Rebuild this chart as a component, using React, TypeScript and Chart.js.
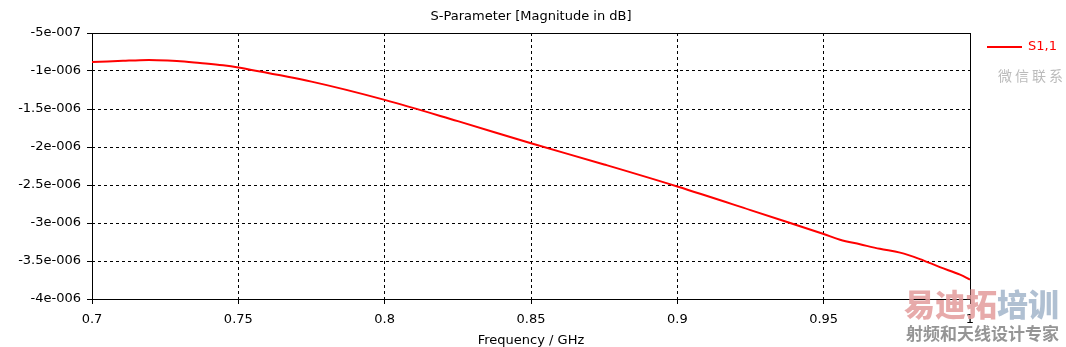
import React, { useEffect, useRef } from "react";
import { Chart, registerables } from "chart.js";

Chart.register(...registerables);

// ---- data ----
const freqGHz = [0.7, 0.7106, 0.7164, 0.7222, 0.729, 0.7369, 0.7448, 0.75, 0.775, 0.8, 0.825, 0.85, 0.875, 0.9, 0.925, 0.95, 0.9556, 0.9624, 0.9692, 0.9761, 0.9829, 0.9897, 0.9966, 1.0];
const s11dB = [-8.82e-7, -8.66e-7, -8.57e-7, -8.57e-7, -8.68e-7, -8.95e-7, -9.25e-7, -9.55e-7, -1.14e-6, -1.38e-6, -1.66e-6, -1.95e-6, -2.23e-6, -2.52e-6, -2.83e-6, -3.145e-6, -3.22e-6, -3.28e-6, -3.34e-6, -3.39e-6, -3.475e-6, -3.58e-6, -3.68e-6, -3.745e-6];

const xTickValues = [0.7, 0.75, 0.8, 0.85, 0.9, 0.95, 1];
const xTickLabels = ["0.7", "0.75", "0.8", "0.85", "0.9", "0.95", "1"];
const yTickValues = [-4e-6, -3.5e-6, -3e-6, -2.5e-6, -2e-6, -1.5e-6, -1e-6, -5e-7];
const yTickLabels = ["-4e-006", "-3.5e-006", "-3e-006", "-2.5e-006", "-2e-006", "-1.5e-006", "-1e-006", "-5e-007"];

const seriesName = "S1,1";
const chartTitle = "S-Parameter [Magnitude in dB]";
const xAxisTitle = "Frequency / GHz";

const FONT = "'DejaVu Sans', sans-serif";
const RED = "#ff0000";

const framePlugin = {
  id: "frame",
  beforeDatasetsDraw(chart: any) {
    const { ctx, chartArea } = chart;
    ctx.save();
    ctx.strokeStyle = "#000";
    ctx.lineWidth = 1;
    ctx.setLineDash([]);
    ctx.strokeRect(chartArea.left + 0.5, chartArea.top + 0.5, chartArea.right - chartArea.left, chartArea.bottom - chartArea.top);
    ctx.restore();
  },
};

const legendPlugin = {
  id: "sideLegend",
  afterDraw(chart: any) {
    const { ctx, chartArea } = chart;
    const y = chartArea.top + 14;
    const x0 = chartArea.right + 17;
    ctx.save();
    ctx.strokeStyle = RED;
    ctx.lineWidth = 2;
    ctx.beginPath();
    ctx.moveTo(x0, y);
    ctx.lineTo(x0 + 35, y);
    ctx.stroke();
    ctx.fillStyle = RED;
    ctx.font = `13px ${FONT}`;
    ctx.textBaseline = "middle";
    ctx.textAlign = "left";
    ctx.fillText(chart.data.datasets[0].label, x0 + 41, y);
    ctx.restore();
  },
};

export default function App() {
  const ref = useRef<HTMLCanvasElement | null>(null);

  useEffect(() => {
    document.body.style.margin = "0";
    const canvas = ref.current;
    if (!canvas) return;
    const chart = new Chart(canvas, {
      type: "line",
      data: {
        datasets: [
          {
            label: seriesName,
            data: freqGHz.map((f, i) => ({ x: f, y: s11dB[i] })),
            borderColor: RED,
            backgroundColor: RED,
            borderWidth: 2,
            pointRadius: 0,
            tension: 0.35,
            fill: false,
          },
        ],
      },
      options: {
        responsive: false,
        animation: false,
        devicePixelRatio: 1,
        layout: { padding: { left: 0, right: 96, top: 0, bottom: 0 } },
        plugins: {
          legend: { display: false },
          tooltip: { enabled: false },
          title: {
            display: true,
            text: chartTitle,
            fullSize: false,
            color: "#000",
            font: { family: FONT, size: 13, weight: "normal" },
            padding: { top: 8.7, bottom: 8.7 },
          },
        },
        scales: {
          x: {
            type: "linear",
            min: 0.7,
            max: 1,
            afterBuildTicks: (scale: any) => {
              scale.ticks = xTickValues.map((v) => ({ value: v }));
            },
            afterFit: (scale: any) => {
              scale.height = 48;
            },
            ticks: {
              autoSkip: false,
              maxRotation: 0,
              color: "#000",
              font: { family: FONT, size: 13 },
              padding: 8,
              callback: (_v: any, i: number) => xTickLabels[i],
            },
            grid: {
              color: "#000",
              lineWidth: 1,
              tickLength: 5,
              tickColor: "#000",
              tickBorderDash: [],
            },
            border: { display: false, dash: [3, 3] },
            title: {
              display: true,
              text: xAxisTitle,
              color: "#000",
              font: { family: FONT, size: 13 },
              padding: { top: 0, bottom: -1 },
            },
          },
          y: {
            type: "linear",
            min: -4e-6,
            max: -5e-7,
            afterBuildTicks: (scale: any) => {
              scale.ticks = yTickValues.map((v) => ({ value: v }));
            },
            afterFit: (scale: any) => {
              scale.width = 92;
            },
            ticks: {
              autoSkip: false,
              color: "#000",
              font: { family: FONT, size: 13 },
              padding: 6,
              callback: (_v: any, i: number) => yTickLabels[i],
            },
            grid: {
              color: "#000",
              lineWidth: 1,
              tickLength: 5,
              tickColor: "#000",
              tickBorderDash: [],
            },
            border: { display: false, dash: [3, 3] },
          },
        },
      },
      plugins: [framePlugin, legendPlugin],
    } as any);
    return () => chart.destroy();
  }, []);

  const cjk = "'Noto Sans CJK SC', sans-serif";
  return (
    <div style={{ position: "absolute", left: 0, top: 0, width: 1066, height: 347, background: "#fff", overflow: "hidden" }}>
      <canvas ref={ref} width={1066} height={347} style={{ display: "block", width: 1066, height: 347 }} />
      <div style={{ position: "absolute", left: 998, top: 66, fontFamily: cjk, fontSize: 14, letterSpacing: 3, color: "#bbbbbb", lineHeight: "18px", whiteSpace: "nowrap" }}>
        微信联系
      </div>
      <div style={{ position: "absolute", left: 904, top: 284, fontFamily: cjk, fontSize: 31, fontWeight: 900, lineHeight: "38px", whiteSpace: "nowrap", opacity: 0.85 }}>
        <span style={{ color: "#e39c9c" }}>易迪拓</span>
        <span style={{ color: "#a3b5cb" }}>培训</span>
      </div>
      <div style={{ position: "absolute", left: 906, top: 322, fontFamily: cjk, fontSize: 17, fontWeight: 700, lineHeight: "22px", color: "#8a8a8a", whiteSpace: "nowrap", opacity: 0.9 }}>
        射频和天线设计专家
      </div>
    </div>
  );
}
